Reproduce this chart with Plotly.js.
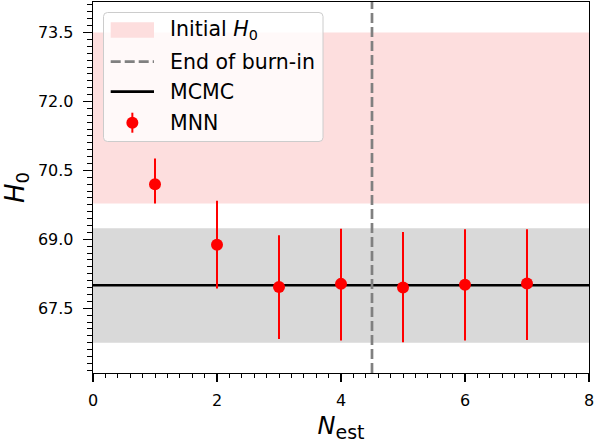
<!DOCTYPE html>
<html>
<head>
<meta charset="utf-8">
<script src="https://cdn.plot.ly/plotly-3.0.1.min.js"></script>
<style>
  html, body { margin: 0; padding: 0; background: #fff; }
  #chart { width: 594px; height: 444px; }
</style>
</head>
<body>
<div id="chart"></div>
<script>
// MNN estimates of H0 per estimation round
const nEst = [1, 2, 3, 4, 5, 6, 7];
const h0Mnn = [70.20, 68.88, 67.96, 68.03, 67.95, 68.01, 68.04];
const h0ErrPlus = [0.56, 0.96, 1.13, 1.20, 1.21, 1.21, 1.18];
const h0ErrMinus = [0.42, 0.95, 1.13, 1.23, 1.19, 1.21, 1.23];

// Initial prior range on H0
const initialH0 = [69.78, 73.5];
// MCMC reference value and its uncertainty band
const mcmcH0 = 68.0;
const mcmcBand = [66.75, 69.24];
// Burn-in boundary
const burnIn = 4.5;

const xRange = [0, 8];
const yRange = [66.09, 74.165];
const yTickVals = [67.5, 69.0, 70.5, 72.0, 73.5];
const yTickText = ['67.5', '69.0', '70.5', '72.0', '73.5'];
const xTickVals = [0, 2, 4, 6, 8];

const legendLabels = ['Initial <i>H</i><sub>0</sub>', 'End of burn-in', 'MCMC', 'MNN'];

const font = 'DejaVu Sans, sans-serif';
const pink = 'rgb(253,222,222)';
const grey = 'rgb(217,217,217)';
const red = '#ff0000';

// plot area in pixels, used to place the legend box in paper units
const W = 594, H = 444;
const M = {l: 93, r: 5, t: 2, b: 71};
const pw = W - M.l - M.r, ph = H - M.t - M.b;
const px = v => (v - M.l) / pw;
const py = v => (H - M.b - v) / ph;

const traces = [
  {
    x: [xRange[0], xRange[1], xRange[1], xRange[0], xRange[0]],
    y: [initialH0[0], initialH0[0], initialH0[1], initialH0[1], initialH0[0]],
    mode: 'lines', fill: 'toself', fillcolor: pink,
    line: {width: 0, color: pink}, showlegend: false, hoverinfo: 'skip'
  },
  {
    x: [xRange[0], xRange[1], xRange[1], xRange[0], xRange[0]],
    y: [mcmcBand[0], mcmcBand[0], mcmcBand[1], mcmcBand[1], mcmcBand[0]],
    mode: 'lines', fill: 'toself', fillcolor: grey,
    line: {width: 0, color: grey}, showlegend: false, hoverinfo: 'skip'
  },
  {
    x: [xRange[0], xRange[1]], y: [mcmcH0, mcmcH0],
    mode: 'lines', line: {color: '#000', width: 2.7}, showlegend: false
  },
  {
    x: [burnIn, burnIn], y: yRange,
    mode: 'lines', line: {color: '#808080', width: 2.7, dash: '10px,4px'}, showlegend: false
  },
  {
    x: nEst, y: h0Mnn, mode: 'markers',
    marker: {color: red, size: 12},
    error_y: {type: 'data', symmetric: false, array: h0ErrPlus, arrayminus: h0ErrMinus,
              color: red, thickness: 2, width: 0},
    showlegend: false
  }
];

// legend box drawn as a rounded rectangle with its handles
const bx0 = 103.5, bx1 = 323, by0 = 12.5, by1 = 141.5, rr = 4;
const rx = rr / pw, ry = rr / ph;
const X0 = px(bx0), X1 = px(bx1), Y0 = py(by1), Y1 = py(by0);
const boxPath = `M${X0 + rx},${Y0} L${X1 - rx},${Y0} Q${X1},${Y0} ${X1},${Y0 + ry} ` +
  `L${X1},${Y1 - ry} Q${X1},${Y1} ${X1 - rx},${Y1} L${X0 + rx},${Y1} Q${X0},${Y1} ${X0},${Y1 - ry} ` +
  `L${X0},${Y0 + ry} Q${X0},${Y0} ${X0 + rx},${Y0} Z`;

const rows = [30, 61.7, 91.7, 122.7];
const hx0 = 110.7, hx1 = 154, hxc = (hx0 + hx1) / 2;
const common = {xref: 'paper', yref: 'paper', layer: 'above'};

const shapes = [
  Object.assign({type: 'path', path: boxPath, fillcolor: 'rgba(255,255,255,0.8)',
                 line: {color: '#cccccc', width: 1}}, common),
  Object.assign({type: 'rect', x0: px(hx0), x1: px(hx1), y0: py(rows[0] + 7.8), y1: py(rows[0] - 7.8),
                 fillcolor: pink, line: {width: 0}}, common),
  Object.assign({type: 'line', x0: px(hx0), x1: px(hx1), y0: py(rows[1]), y1: py(rows[1]),
                 line: {color: '#808080', width: 2.7, dash: '10px,4px'}}, common),
  Object.assign({type: 'line', x0: px(hx0), x1: px(hx1), y0: py(rows[2]), y1: py(rows[2]),
                 line: {color: '#000', width: 2.7}}, common),
  Object.assign({type: 'line', x0: px(hxc), x1: px(hxc),
                 y0: py(rows[3] + 10), y1: py(rows[3] - 10),
                 line: {color: red, width: 2}}, common),
  Object.assign({type: 'circle', x0: px(hxc - 6), x1: px(hxc + 6),
                 y0: py(rows[3] + 6), y1: py(rows[3] - 6),
                 fillcolor: red, line: {width: 0}}, common)
];

const annotations = legendLabels.map((t, i) => ({
  text: t, xref: 'paper', yref: 'paper', x: px(168), y: py(rows[i]),
  xanchor: 'left', yanchor: 'middle', showarrow: false,
  font: {family: font, size: 20.5, color: '#000'}
}));

const axisCommon = {
  showgrid: false, zeroline: false,
  showline: true, mirror: true, linecolor: '#000', linewidth: 1.3,
  ticks: 'outside', tickcolor: '#000', tickwidth: 1.2,
  tickfont: {family: font, size: 16, color: '#000'},
  ticklabeloverflow: 'allow'
};

const layout = {
  width: W, height: H, margin: M,
  paper_bgcolor: '#fff', plot_bgcolor: '#fff',
  font: {family: font, color: '#000'},
  showlegend: false,
  shapes: shapes,
  annotations: annotations,
  xaxis: Object.assign({}, axisCommon, {
    range: [xRange[0], xRange[1] + 1e-9], tickvals: xTickVals, ticklen: 8, ticklabelstandoff: 4,
    minor: {dtick: 0.2, tick0: 0, ticklen: 4, tickwidth: 1, tickcolor: '#000', ticks: 'outside'},
    title: {text: '<i>N</i><sub><span style="font-size:19px">est</span></sub>',
            font: {family: font, size: 24, color: '#000'}, standoff: 8}
  }),
  yaxis: Object.assign({}, axisCommon, {
    range: yRange, tickvals: yTickVals, ticktext: yTickText, ticklen: 9, ticklabelstandoff: 6,
    minor: {dtick: 0.15, tick0: 67.5, ticklen: 5, tickwidth: 1, tickcolor: '#000', ticks: 'outside'},
    title: {text: '<i>H</i><sub>0</sub>', font: {family: font, size: 26, color: '#000'}, standoff: 10}
  })
};

Plotly.newPlot('chart', traces, layout, {staticPlot: true, displayModeBar: false});
</script>
</body>
</html>
